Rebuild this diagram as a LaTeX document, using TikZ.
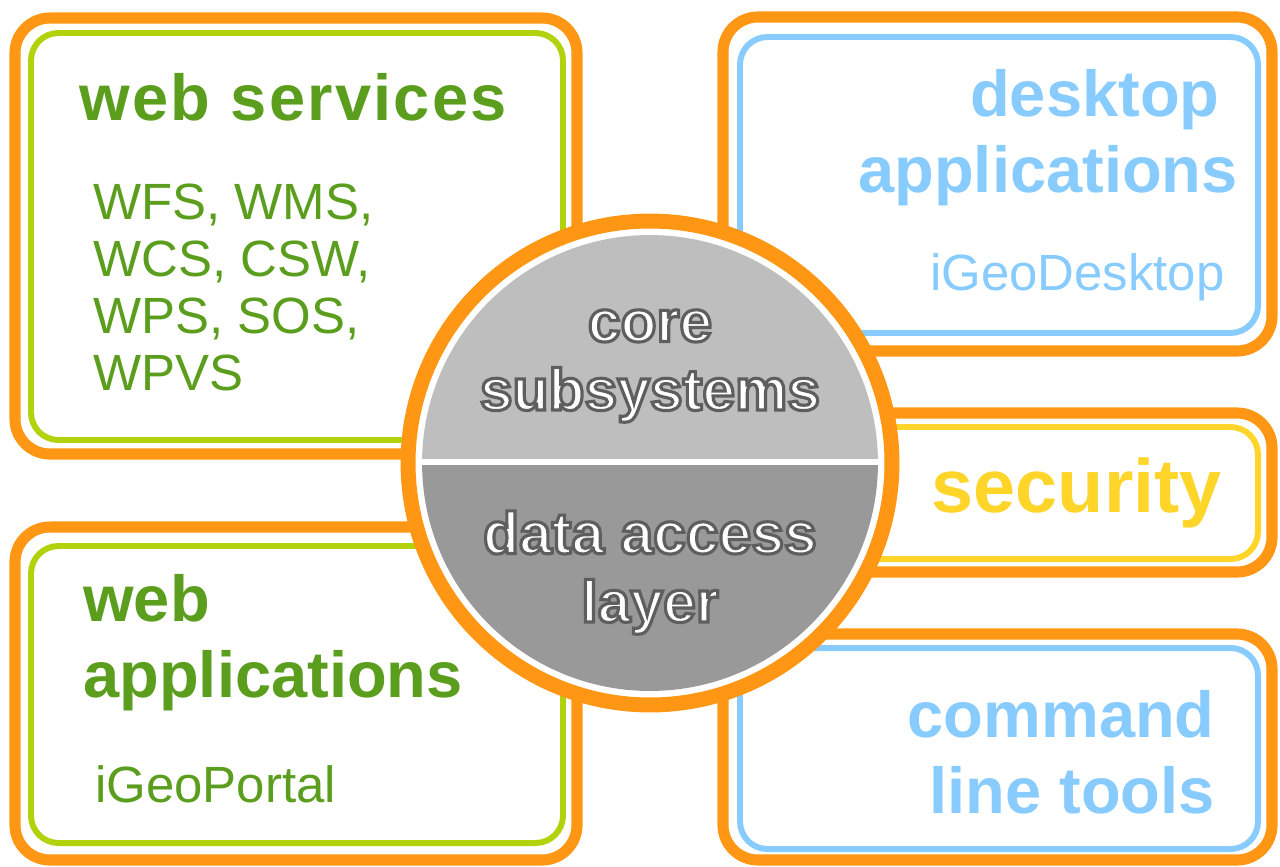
\documentclass[tikz,border=0pt]{standalone}
\usepackage{fontspec}
\setmainfont{Liberation Sans}

\definecolor{igorange}{HTML}{FF9614}
\definecolor{wsgreen}{HTML}{B2D20C}
\definecolor{wstext}{HTML}{5B9E1E}
\definecolor{appblue}{HTML}{88CCFF}
\definecolor{secyellow}{HTML}{FFD52A}
\definecolor{coretop}{HTML}{BEBEBE}
\definecolor{corebottom}{HTML}{999999}

% white letters with a thin grey rim
\newcommand{\corefont}[1]{\special{pdf:literal direct 0.37 G 1.8 w 2 Tr}#1\special{pdf:literal direct 0 Tr}}

\begin{document}
\begin{tikzpicture}[x=0.02cm, y=-0.02cm,
	outerframe/.style={draw=igorange, line width=6.3pt, rounded corners=0.7cm, fill=white},
	ringbox/.style={line width=3.4pt, rounded corners=0.55cm},
	heading/.style={inner sep=0pt, font=\fontsize{37}{43}\selectfont\bfseries},
	detail/.style={inner sep=0pt, font=\fontsize{29}{32.4}\selectfont},
	corelabel/.style={inner sep=0pt, align=center, text=white, font=\fontsize{33.5}{39}\selectfont\bfseries}]

	\useasboundingbox (0,0) rectangle (1280,866);

	% web services
	\draw[outerframe] (15,18) rectangle (577,454);
	\draw[ringbox, draw=wsgreen] (31,33) rectangle (563,440);
	\node[heading, text=wstext, font=\fontsize{37}{43}\selectfont\bfseries\addfontfeature{LetterSpace=3.5}, anchor=base west] (ws) at (79,120) {web services};
	\node[detail, text=wstext, align=left, anchor=base west] (wslist) at (93,390) {WFS, WMS,\\WCS, CSW,\\WPS, SOS,\\WPVS};

	% web applications
	\draw[outerframe] (15,527) rectangle (577,860);
	\draw[ringbox, draw=wsgreen] (31,546) rectangle (563,843);
	\node[heading, text=wstext, align=left, anchor=base west] (wa) at (83,697) {web\\applications};
	\node[detail, text=wstext, anchor=base west] (portal) at (95,802) {iGeoPortal};

	% desktop applications
	\draw[outerframe] (723,17) rectangle (1272,351);
	\draw[ringbox, draw=appblue] (740,37) rectangle (1258,333);
	\node[heading, text=appblue, align=right, anchor=base east] (da) at (1238,192) {desktop\hspace*{.28em}\\applications};
	\node[detail, text=appblue, anchor=base east] (desktop) at (1225,290) {iGeoDesktop};

	% security
	\draw[outerframe] (800,413) rectangle (1272,572);
	\draw[ringbox, draw=secyellow] (815,427) rectangle (1258,559);
	\node[heading, text=secyellow, font=\fontsize{43}{48}\selectfont\bfseries, anchor=base east] (sec) at (1222,512) {security};

	% command line tools
	\draw[outerframe] (723,634) rectangle (1272,860);
	\draw[ringbox, draw=appblue] (740,648) rectangle (1258,849);
	\node[heading, text=appblue, align=right, anchor=base east] (clt) at (1215,813) {command\\line tools};

	% core
	\coordinate (c) at (650,463);
	\draw[draw=igorange, line width=8.5pt, fill=white] (c) circle (4.84cm);
	\begin{scope}
		\clip (c) circle (4.56cm);
		\fill[coretop] (400,200) rectangle (900,463);
		\fill[corebottom] (400,463) rectangle (900,720);
		\draw[white, line width=3pt] (400,462) -- (900,462);
	\end{scope}
	\node[corelabel, anchor=base] (core) at (650,410) {\corefont{core}\\\corefont{subsystems}};
	\node[corelabel, anchor=base] (dal) at (650,622) {\corefont{data access}\\\corefont{layer}};

\end{tikzpicture}
\end{document}
